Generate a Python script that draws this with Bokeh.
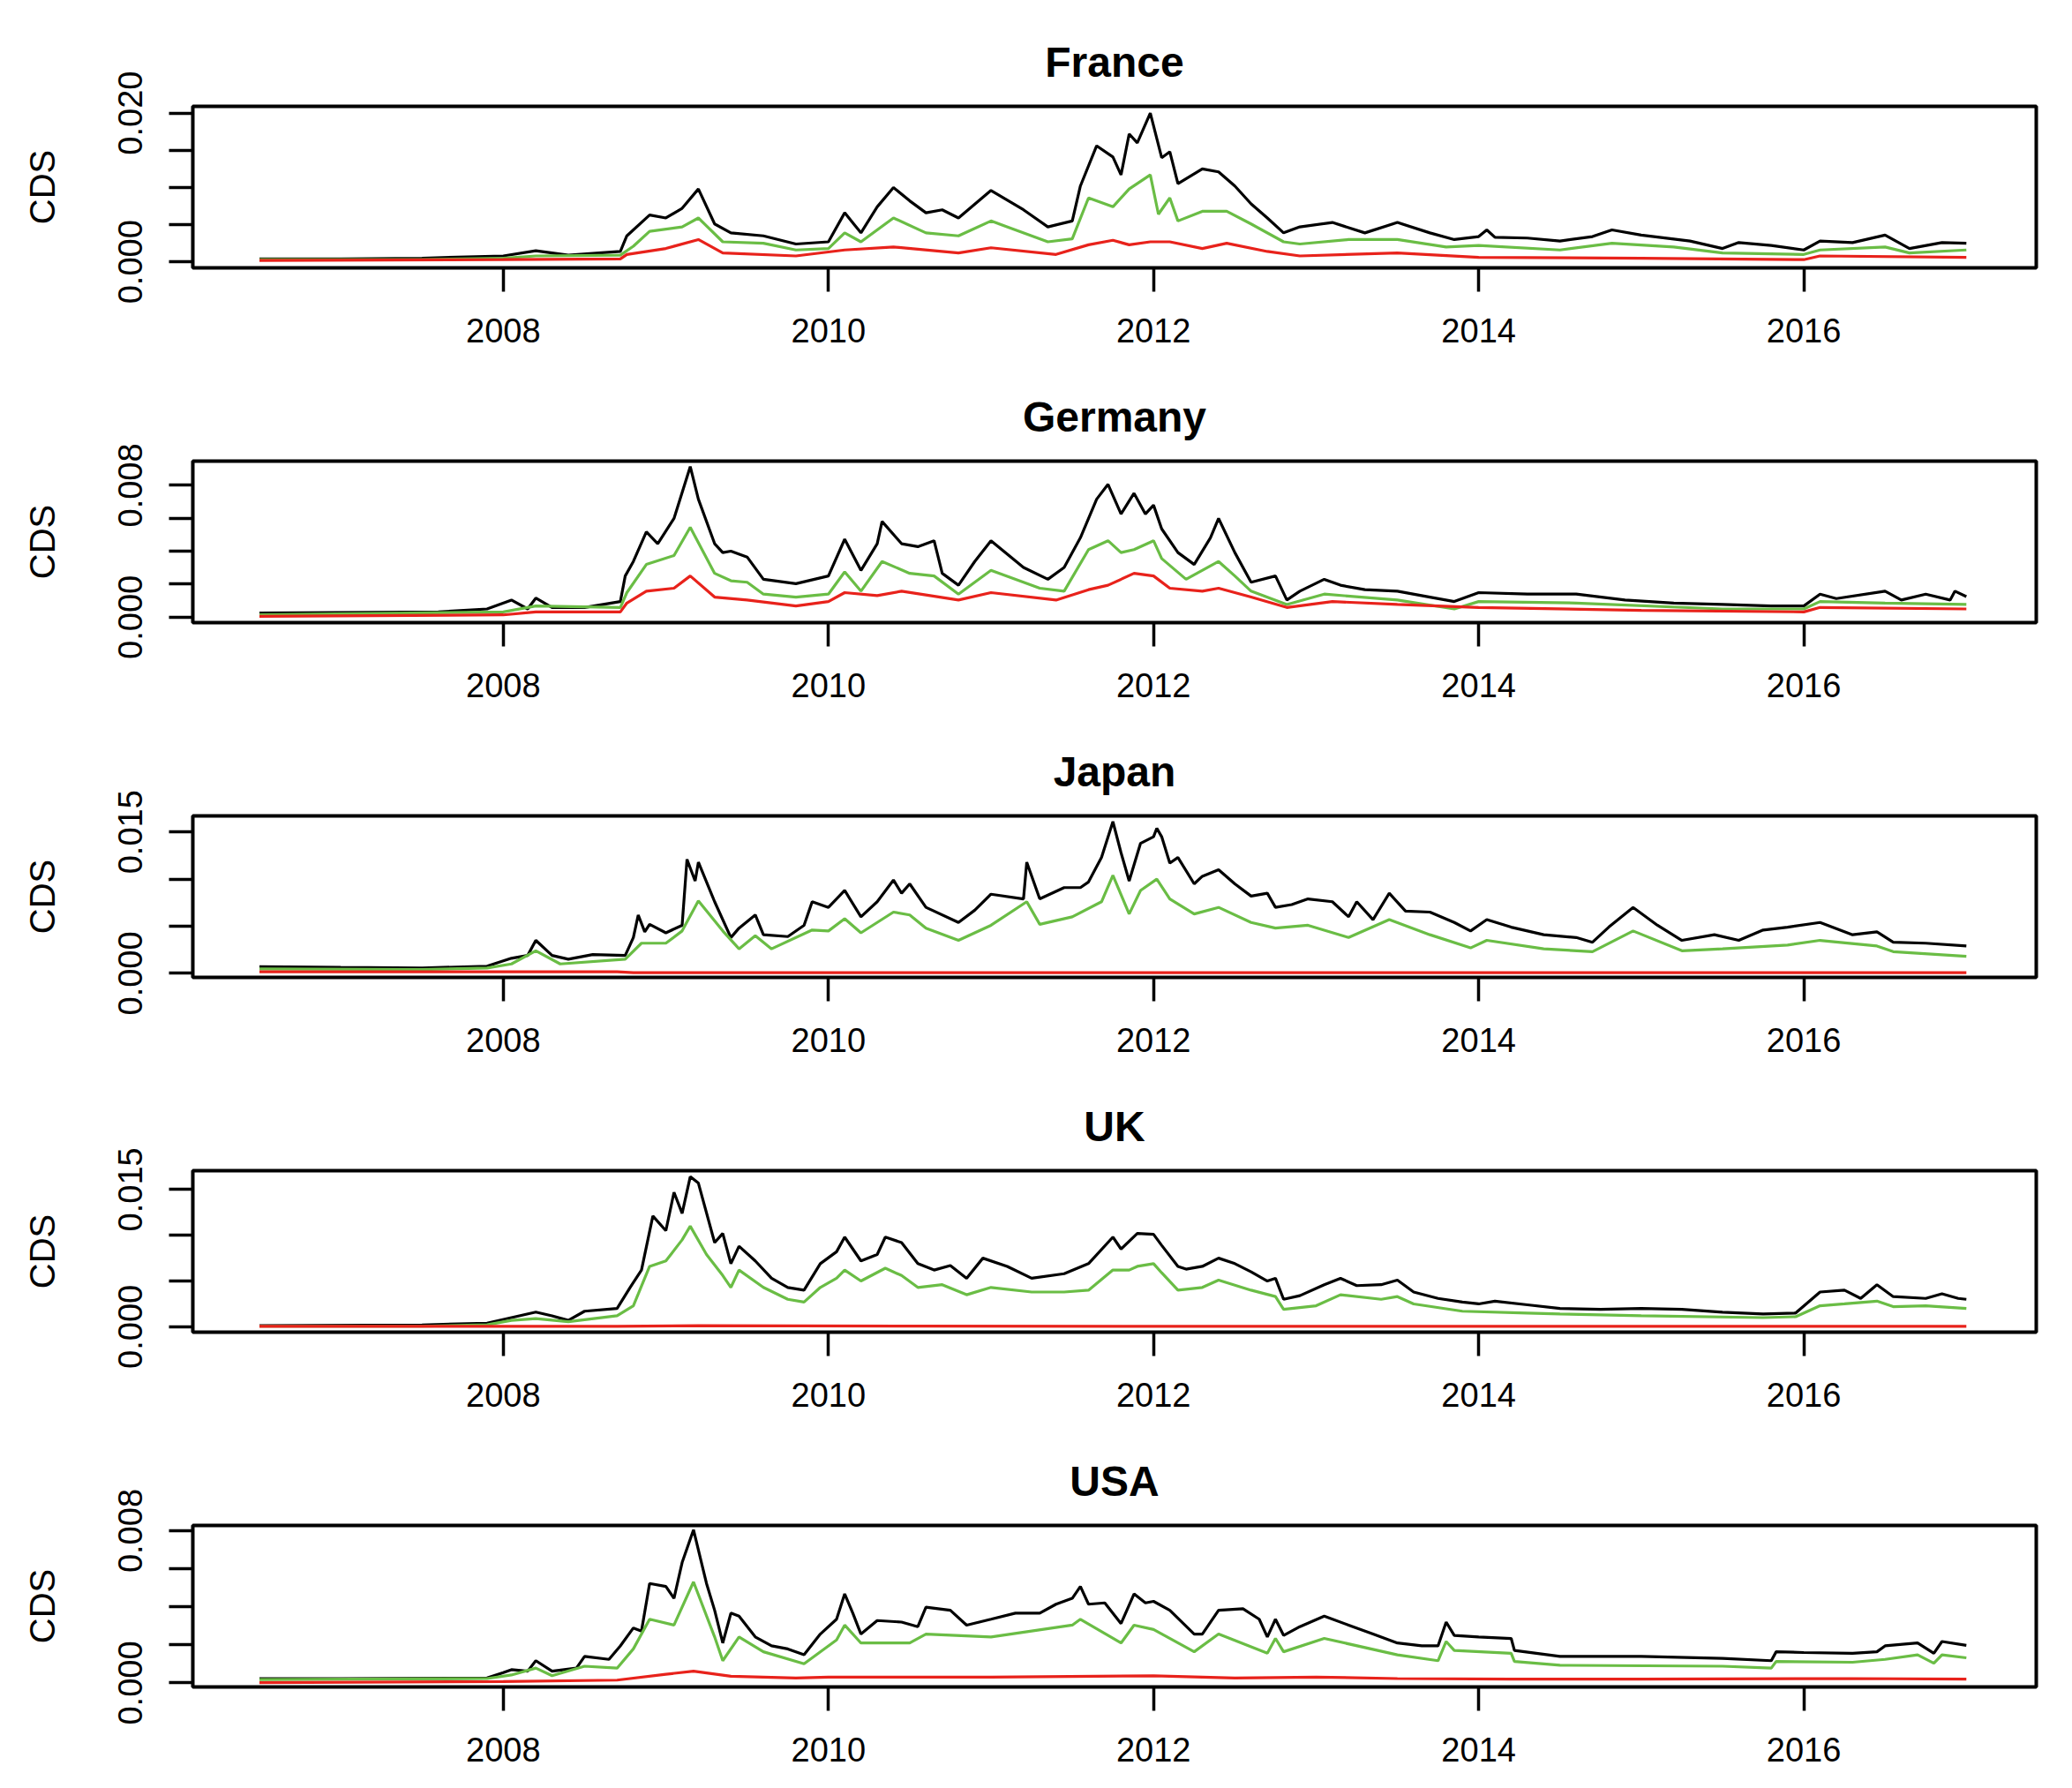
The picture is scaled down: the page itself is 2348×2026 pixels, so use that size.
from bokeh.plotting import figure
from bokeh.models import Range1d, FixedTicker, CustomJSTickFormatter
from bokeh.layouts import column
from bokeh.embed import file_html
from bokeh.resources import INLINE

COUNTRIES = ["France", "Germany", "Japan", "UK", "USA"]
YEAR_TICKS = [2008, 2010, 2012, 2014, 2016]

# (year, value) pairs
FRANCE_BLACK = [(2006.50, 0.0004), (2007.00, 0.0004), (2007.50, 0.0005), (2008.00, 0.0008), (2008.20, 0.0015),
    (2008.40, 0.0009), (2008.72, 0.0014), (2008.76, 0.0035), (2008.90, 0.0063), (2009.00, 0.0059), (2009.10, 0.0072),
    (2009.20, 0.0098), (2009.30, 0.0051), (2009.40, 0.0039), (2009.60, 0.0035), (2009.80, 0.0024), (2010.00, 0.0027),
    (2010.10, 0.0066), (2010.20, 0.0039), (2010.30, 0.0074), (2010.40, 0.0100), (2010.50, 0.0082), (2010.60, 0.0066),
    (2010.70, 0.0070), (2010.80, 0.0059), (2011.00, 0.0096), (2011.20, 0.0070), (2011.35, 0.0047), (2011.50, 0.0055),
    (2011.55, 0.0102), (2011.65, 0.0156), (2011.75, 0.0141), (2011.80, 0.0117), (2011.85, 0.0172), (2011.90, 0.0160),
    (2011.98, 0.0200), (2012.05, 0.0140), (2012.10, 0.0148), (2012.15, 0.0105), (2012.30, 0.0125), (2012.40, 0.0121),
    (2012.50, 0.0102), (2012.60, 0.0078), (2012.70, 0.0059), (2012.80, 0.0039), (2012.90, 0.0047), (2013.10, 0.0053),
    (2013.30, 0.0039), (2013.50, 0.0053), (2013.70, 0.0039), (2013.85, 0.0030), (2014.00, 0.0034), (2014.05, 0.0043),
    (2014.10, 0.0033), (2014.30, 0.0032), (2014.50, 0.0028), (2014.70, 0.0034), (2014.82, 0.0043), (2015.00, 0.0036),
    (2015.30, 0.0028), (2015.50, 0.0018), (2015.60, 0.0026), (2015.80, 0.0022), (2016.00, 0.0016), (2016.10, 0.0028),
    (2016.30, 0.0026), (2016.50, 0.0036), (2016.65, 0.0018), (2016.85, 0.0026), (2017.00, 0.0025)]
FRANCE_GREEN = [(2006.50, 0.0003), (2007.50, 0.0003), (2008.00, 0.0005), (2008.20, 0.0008), (2008.72, 0.0009),
    (2008.80, 0.0021), (2008.90, 0.0041), (2009.10, 0.0047), (2009.20, 0.0059), (2009.35, 0.0027), (2009.60, 0.0025),
    (2009.80, 0.0016), (2010.00, 0.0018), (2010.10, 0.0039), (2010.20, 0.0027), (2010.40, 0.0059), (2010.60, 0.0039),
    (2010.80, 0.0035), (2011.00, 0.0055), (2011.35, 0.0027), (2011.50, 0.0031), (2011.60, 0.0086), (2011.75, 0.0074),
    (2011.85, 0.0098), (2011.98, 0.0117), (2012.03, 0.0064), (2012.10, 0.0086), (2012.15, 0.0055), (2012.30, 0.0068),
    (2012.45, 0.0068), (2012.60, 0.0051), (2012.80, 0.0027), (2012.90, 0.0024), (2013.20, 0.0030), (2013.50, 0.0030),
    (2013.80, 0.0020), (2014.00, 0.0022), (2014.50, 0.0016), (2014.82, 0.0025), (2015.20, 0.0020), (2015.50, 0.0012),
    (2016.00, 0.0010), (2016.10, 0.0016), (2016.50, 0.0020), (2016.65, 0.0012), (2017.00, 0.0016)]
FRANCE_RED = [(2006.50, 0.0002), (2008.00, 0.0003), (2008.72, 0.0004), (2008.76, 0.0010), (2009.00, 0.0018),
    (2009.20, 0.0030), (2009.35, 0.0012), (2009.80, 0.0008), (2010.10, 0.0016), (2010.40, 0.0020), (2010.80, 0.0012),
    (2011.00, 0.0019), (2011.40, 0.0010), (2011.60, 0.0023), (2011.75, 0.0029), (2011.85, 0.0023), (2011.98, 0.0027),
    (2012.10, 0.0027), (2012.30, 0.0018), (2012.45, 0.0025), (2012.70, 0.0014), (2012.90, 0.0008), (2013.50, 0.0012),
    (2014.00, 0.0006), (2015.00, 0.0005), (2016.00, 0.0003), (2016.10, 0.0008), (2017.00, 0.0006)]

GERMANY_BLACK = [(2006.50, 0.00026), (2007.60, 0.00032), (2007.90, 0.0005), (2008.05, 0.00104), (2008.15, 0.0005),
    (2008.20, 0.00116), (2008.30, 0.00059), (2008.50, 0.00059), (2008.72, 0.00095), (2008.75, 0.0025), (2008.80, 0.00338),
    (2008.88, 0.00518), (2008.95, 0.00446), (2009.05, 0.00599), (2009.15, 0.00914), (2009.20, 0.00716), (2009.30, 0.00446),
    (2009.35, 0.00392), (2009.40, 0.00401), (2009.50, 0.00365), (2009.60, 0.0023), (2009.80, 0.00203), (2010.00, 0.0025),
    (2010.10, 0.00473), (2010.20, 0.00284), (2010.30, 0.00446), (2010.33, 0.00581), (2010.45, 0.00446), (2010.55, 0.00428),
    (2010.65, 0.00464), (2010.70, 0.00266), (2010.80, 0.00194), (2010.90, 0.00338), (2011.00, 0.00464), (2011.20, 0.00302),
    (2011.35, 0.0023), (2011.45, 0.00302), (2011.55, 0.00482), (2011.65, 0.00716), (2011.72, 0.00806), (2011.80, 0.00626),
    (2011.88, 0.00752), (2011.95, 0.00626), (2012.00, 0.0068), (2012.05, 0.00536), (2012.15, 0.00392), (2012.25, 0.0032),
    (2012.35, 0.00482), (2012.40, 0.00599), (2012.50, 0.00392), (2012.60, 0.00212), (2012.75, 0.0025), (2012.82, 0.00104),
    (2012.90, 0.00158), (2013.05, 0.0023), (2013.15, 0.00194), (2013.30, 0.00167), (2013.50, 0.00158), (2013.70, 0.00122),
    (2013.85, 0.00095), (2014.00, 0.00149), (2014.30, 0.0014), (2014.60, 0.0014), (2014.90, 0.00104), (2015.20, 0.00086),
    (2015.50, 0.00077), (2015.80, 0.00068), (2016.00, 0.00068), (2016.10, 0.0014), (2016.20, 0.00113), (2016.50, 0.00158),
    (2016.60, 0.00104), (2016.75, 0.0014), (2016.90, 0.00104), (2016.93, 0.00158), (2017.00, 0.00125)]
GERMANY_GREEN = [(2006.50, 0.00014), (2008.00, 0.00032), (2008.20, 0.00068), (2008.72, 0.00059), (2008.76, 0.00149),
    (2008.88, 0.0032), (2009.05, 0.00374), (2009.15, 0.00545), (2009.30, 0.00266), (2009.40, 0.00221), (2009.50, 0.00212),
    (2009.60, 0.0014), (2009.80, 0.00122), (2010.00, 0.0014), (2010.10, 0.00275), (2010.20, 0.00158), (2010.33, 0.00338),
    (2010.50, 0.00266), (2010.65, 0.0025), (2010.80, 0.0014), (2011.00, 0.00284), (2011.30, 0.00176), (2011.45, 0.00158),
    (2011.60, 0.0041), (2011.72, 0.00464), (2011.80, 0.00392), (2011.88, 0.0041), (2012.00, 0.00464), (2012.05, 0.00356),
    (2012.20, 0.0023), (2012.40, 0.00338), (2012.50, 0.0025), (2012.60, 0.00158), (2012.82, 0.00077), (2013.05, 0.0014),
    (2013.50, 0.00104), (2013.85, 0.0005), (2014.00, 0.00095), (2014.60, 0.00086), (2015.50, 0.0005), (2016.00, 0.0005),
    (2016.10, 0.00095), (2016.50, 0.00086), (2017.00, 0.00077)]
GERMANY_RED = [(2006.50, 0.00005), (2008.00, 0.00014), (2008.20, 0.00032), (2008.72, 0.00032), (2008.76, 0.00086),
    (2008.88, 0.00158), (2009.05, 0.00176), (2009.15, 0.0025), (2009.30, 0.00122), (2009.50, 0.00104), (2009.80, 0.00068),
    (2010.00, 0.00095), (2010.10, 0.00149), (2010.30, 0.00131), (2010.45, 0.00158), (2010.80, 0.00104), (2011.00, 0.00149),
    (2011.40, 0.00104), (2011.60, 0.00167), (2011.72, 0.00194), (2011.88, 0.00266), (2012.00, 0.0025), (2012.10, 0.00176),
    (2012.30, 0.00158), (2012.40, 0.00176), (2012.60, 0.00122), (2012.82, 0.00059), (2013.10, 0.00095), (2013.50, 0.00077),
    (2014.00, 0.00059), (2015.00, 0.00041), (2016.00, 0.00032), (2016.10, 0.00059), (2017.00, 0.0005)]

JAPAN_BLACK = [(2006.50, 0.0007), (2007.00, 0.00063), (2007.50, 0.00057), (2007.90, 0.00076), (2008.05, 0.0016),
    (2008.15, 0.0019), (2008.20, 0.0035), (2008.30, 0.0019), (2008.40, 0.0015), (2008.55, 0.0020), (2008.75, 0.0019),
    (2008.80, 0.0038), (2008.83, 0.0062), (2008.87, 0.0044), (2008.90, 0.0052), (2009.00, 0.0043), (2009.10, 0.0051),
    (2009.13, 0.0121), (2009.18, 0.0098), (2009.20, 0.0118), (2009.30, 0.0076), (2009.40, 0.0038), (2009.45, 0.0048),
    (2009.55, 0.0062), (2009.60, 0.0041), (2009.75, 0.0039), (2009.85, 0.0051), (2009.90, 0.0076), (2010.00, 0.0070),
    (2010.10, 0.0088), (2010.20, 0.0060), (2010.30, 0.0076), (2010.40, 0.0099), (2010.45, 0.0085), (2010.50, 0.0095),
    (2010.60, 0.0070), (2010.80, 0.0054), (2010.90, 0.0067), (2011.00, 0.0084), (2011.20, 0.0079), (2011.22, 0.0118),
    (2011.30, 0.0079), (2011.45, 0.0091), (2011.55, 0.0091), (2011.60, 0.0097), (2011.68, 0.0123), (2011.75, 0.0161),
    (2011.80, 0.0128), (2011.85, 0.0098), (2011.92, 0.0138), (2012.00, 0.0145), (2012.02, 0.0154), (2012.05, 0.0145),
    (2012.10, 0.0117), (2012.15, 0.0123), (2012.25, 0.0095), (2012.30, 0.0103), (2012.40, 0.0110), (2012.50, 0.0095),
    (2012.60, 0.0082), (2012.70, 0.0085), (2012.75, 0.0070), (2012.85, 0.0073), (2012.95, 0.0079), (2013.10, 0.0076),
    (2013.20, 0.0060), (2013.25, 0.0076), (2013.35, 0.0057), (2013.45, 0.0085), (2013.55, 0.0066), (2013.70, 0.0065),
    (2013.85, 0.0054), (2013.95, 0.0045), (2014.05, 0.0057), (2014.20, 0.0049), (2014.40, 0.0041), (2014.60, 0.0038),
    (2014.70, 0.0033), (2014.80, 0.0049), (2014.95, 0.0070), (2015.10, 0.0051), (2015.25, 0.0035), (2015.45, 0.0041),
    (2015.60, 0.0035), (2015.75, 0.0046), (2015.90, 0.0049), (2016.10, 0.0054), (2016.30, 0.0041), (2016.45, 0.0044),
    (2016.55, 0.0033), (2016.75, 0.0032), (2017.00, 0.0029)]
JAPAN_GREEN = [(2006.50, 0.00048), (2007.50, 0.0004), (2007.90, 0.00056), (2008.05, 0.0010), (2008.20, 0.0024),
    (2008.35, 0.0010), (2008.75, 0.0015), (2008.85, 0.0032), (2009.00, 0.0032), (2009.10, 0.0045), (2009.20, 0.0077),
    (2009.35, 0.0045), (2009.45, 0.0026), (2009.55, 0.0040), (2009.65, 0.0026), (2009.90, 0.0046), (2010.00, 0.0045),
    (2010.10, 0.0058), (2010.20, 0.0043), (2010.40, 0.0065), (2010.50, 0.0062), (2010.60, 0.0048), (2010.80, 0.0035),
    (2011.00, 0.0051), (2011.22, 0.0076), (2011.30, 0.0052), (2011.50, 0.0060), (2011.68, 0.0076), (2011.75, 0.0104),
    (2011.85, 0.0063), (2011.92, 0.0088), (2012.02, 0.0100), (2012.10, 0.0079), (2012.25, 0.0063), (2012.40, 0.0070),
    (2012.60, 0.0054), (2012.75, 0.0048), (2012.95, 0.0051), (2013.20, 0.0038), (2013.45, 0.0057), (2013.70, 0.0041),
    (2013.95, 0.0027), (2014.05, 0.0035), (2014.40, 0.0026), (2014.70, 0.0023), (2014.95, 0.0045), (2015.25, 0.0024),
    (2015.50, 0.0026), (2015.90, 0.0030), (2016.10, 0.0035), (2016.45, 0.0029), (2016.55, 0.0023), (2017.00, 0.0018)]
JAPAN_RED = [(2006.50, 0.00016), (2008.70, 0.00016), (2008.80, 0.00007), (2012.00, 0.00007), (2017.00, 0.00007)]

UK_BLACK = [(2006.50, 0.00013), (2007.50, 0.0002), (2007.90, 0.0004), (2008.05, 0.0010), (2008.20, 0.0016),
    (2008.30, 0.0012), (2008.40, 0.0007), (2008.50, 0.0017), (2008.70, 0.0020), (2008.78, 0.0043), (2008.85, 0.0062),
    (2008.92, 0.0121), (2009.00, 0.0105), (2009.05, 0.0147), (2009.10, 0.0124), (2009.15, 0.0164), (2009.20, 0.0157),
    (2009.30, 0.0092), (2009.35, 0.0102), (2009.40, 0.0069), (2009.45, 0.0088), (2009.55, 0.0072), (2009.65, 0.0053),
    (2009.75, 0.0043), (2009.85, 0.0040), (2009.95, 0.0069), (2010.05, 0.0082), (2010.10, 0.0098), (2010.20, 0.0072),
    (2010.30, 0.0079), (2010.35, 0.0098), (2010.45, 0.0092), (2010.55, 0.0069), (2010.65, 0.0062), (2010.75, 0.0067),
    (2010.85, 0.0053), (2010.95, 0.0075), (2011.10, 0.0066), (2011.25, 0.0053), (2011.45, 0.0058), (2011.60, 0.0069),
    (2011.75, 0.0098), (2011.80, 0.0085), (2011.90, 0.0102), (2012.00, 0.0101), (2012.05, 0.0089), (2012.15, 0.0066),
    (2012.20, 0.0063), (2012.30, 0.0066), (2012.40, 0.0075), (2012.50, 0.0069), (2012.60, 0.0060), (2012.70, 0.0050),
    (2012.75, 0.0053), (2012.80, 0.0030), (2012.90, 0.0034), (2013.05, 0.0046), (2013.15, 0.0053), (2013.25, 0.0045),
    (2013.40, 0.0046), (2013.50, 0.0051), (2013.60, 0.0038), (2013.75, 0.0031), (2013.90, 0.0027), (2014.00, 0.0025),
    (2014.10, 0.0028), (2014.30, 0.0024), (2014.50, 0.0020), (2014.75, 0.0019), (2015.00, 0.0020), (2015.25, 0.0019),
    (2015.50, 0.0016), (2015.75, 0.0014), (2015.95, 0.0015), (2016.10, 0.0038), (2016.25, 0.0040), (2016.35, 0.0031),
    (2016.45, 0.0046), (2016.55, 0.0033), (2016.75, 0.0031), (2016.85, 0.0036), (2016.95, 0.0031), (2017.00, 0.0030)]
UK_GREEN = [(2006.50, 0.00006), (2007.50, 0.00006), (2007.90, 0.00022), (2008.05, 0.0007), (2008.20, 0.0009),
    (2008.40, 0.00055), (2008.70, 0.0012), (2008.80, 0.0023), (2008.90, 0.0066), (2009.00, 0.0072), (2009.10, 0.0095),
    (2009.15, 0.0110), (2009.25, 0.0079), (2009.35, 0.0056), (2009.40, 0.0043), (2009.45, 0.0062), (2009.60, 0.0043),
    (2009.75, 0.0030), (2009.85, 0.0027), (2009.95, 0.0043), (2010.05, 0.0053), (2010.10, 0.0062), (2010.20, 0.0050),
    (2010.35, 0.0064), (2010.45, 0.0056), (2010.55, 0.0043), (2010.70, 0.0046), (2010.85, 0.0035), (2011.00, 0.0043),
    (2011.25, 0.0038), (2011.45, 0.0038), (2011.60, 0.0040), (2011.75, 0.0062), (2011.85, 0.0062), (2011.90, 0.0066),
    (2012.00, 0.0069), (2012.05, 0.0059), (2012.15, 0.0040), (2012.30, 0.0043), (2012.40, 0.0051), (2012.60, 0.0040),
    (2012.75, 0.0033), (2012.80, 0.0019), (2013.00, 0.0023), (2013.15, 0.0035), (2013.40, 0.0030), (2013.50, 0.0033),
    (2013.60, 0.0025), (2013.90, 0.0017), (2014.30, 0.0015), (2014.50, 0.0014), (2015.00, 0.0012), (2015.75, 0.0010),
    (2015.95, 0.0011), (2016.10, 0.0023), (2016.25, 0.0025), (2016.45, 0.0028), (2016.55, 0.0022), (2016.75, 0.0023),
    (2017.00, 0.0020)]
UK_RED = [(2006.50, 0.00005), (2008.70, 0.00005), (2009.20, 0.00012), (2010.50, 0.00008), (2012.00, 0.00005),
    (2014.00, 0.00005), (2017.00, 0.00005)]

USA_BLACK = [(2006.50, 0.00023), (2007.00, 0.00023), (2007.90, 0.00026), (2008.00, 0.00054), (2008.05, 0.0007),
    (2008.15, 0.00062), (2008.20, 0.00117), (2008.30, 0.00062), (2008.45, 0.00078), (2008.50, 0.0014), (2008.65, 0.00124),
    (2008.72, 0.00195), (2008.80, 0.00289), (2008.85, 0.00273), (2008.90, 0.00523), (2009.00, 0.00507), (2009.05, 0.00445),
    (2009.10, 0.00633), (2009.17, 0.00805), (2009.25, 0.00523), (2009.30, 0.00382), (2009.35, 0.0021), (2009.40, 0.00367),
    (2009.45, 0.00351), (2009.55, 0.00242), (2009.65, 0.00195), (2009.75, 0.00179), (2009.85, 0.00148), (2009.95, 0.00257),
    (2010.05, 0.00335), (2010.10, 0.00468), (2010.15, 0.00367), (2010.20, 0.00257), (2010.30, 0.00328), (2010.45, 0.0032),
    (2010.55, 0.00296), (2010.60, 0.00398), (2010.75, 0.00382), (2010.85, 0.00304), (2011.00, 0.00335), (2011.15, 0.00367),
    (2011.30, 0.00367), (2011.40, 0.00414), (2011.50, 0.00445), (2011.55, 0.00507), (2011.60, 0.00414), (2011.70, 0.00421),
    (2011.80, 0.00312), (2011.88, 0.00468), (2011.95, 0.00421), (2012.00, 0.00429), (2012.10, 0.00382), (2012.25, 0.00257),
    (2012.30, 0.00257), (2012.40, 0.00382), (2012.55, 0.0039), (2012.65, 0.00335), (2012.70, 0.00242), (2012.75, 0.00335),
    (2012.80, 0.0025), (2012.90, 0.00296), (2013.05, 0.00351), (2013.20, 0.00304), (2013.35, 0.00257), (2013.50, 0.0021),
    (2013.65, 0.00195), (2013.75, 0.00195), (2013.80, 0.0032), (2013.85, 0.0025), (2014.00, 0.00242), (2014.20, 0.00234),
    (2014.22, 0.00171), (2014.50, 0.0014), (2015.00, 0.0014), (2015.50, 0.00129), (2015.80, 0.00117), (2015.83, 0.00164),
    (2016.00, 0.0016), (2016.30, 0.00156), (2016.45, 0.00164), (2016.50, 0.00195), (2016.70, 0.0021), (2016.80, 0.00156),
    (2016.85, 0.00218), (2017.00, 0.00198)]
USA_GREEN = [(2006.50, 0.00018), (2007.90, 0.00023), (2008.05, 0.00042), (2008.20, 0.00078), (2008.30, 0.00038),
    (2008.50, 0.00088), (2008.70, 0.00078), (2008.80, 0.00179), (2008.90, 0.00335), (2009.05, 0.00304), (2009.17, 0.00531),
    (2009.30, 0.00242), (2009.35, 0.00117), (2009.45, 0.00242), (2009.60, 0.00164), (2009.85, 0.00101), (2010.05, 0.00226),
    (2010.10, 0.00304), (2010.20, 0.0021), (2010.50, 0.0021), (2010.60, 0.00257), (2011.00, 0.00242), (2011.50, 0.00304),
    (2011.55, 0.00335), (2011.80, 0.0021), (2011.88, 0.00304), (2012.00, 0.00281), (2012.25, 0.00164), (2012.40, 0.00257),
    (2012.70, 0.00156), (2012.75, 0.00234), (2012.80, 0.00164), (2013.05, 0.00234), (2013.50, 0.00148), (2013.75, 0.00117),
    (2013.80, 0.00218), (2013.85, 0.00171), (2014.20, 0.00156), (2014.22, 0.00113), (2014.50, 0.00093), (2015.50, 0.00088),
    (2015.80, 0.00078), (2015.83, 0.00113), (2016.30, 0.00109), (2016.50, 0.00124), (2016.70, 0.00148), (2016.80, 0.00104),
    (2016.85, 0.00148), (2017.00, 0.00132)]
USA_RED = [(2006.50, 0.00002), (2008.00, 0.00007), (2008.70, 0.00015), (2009.00, 0.00046), (2009.17, 0.00062),
    (2009.40, 0.00035), (2009.80, 0.00026), (2010.00, 0.00031), (2011.00, 0.00031), (2012.00, 0.00038), (2012.50, 0.00026),
    (2013.00, 0.00031), (2013.50, 0.00023), (2014.20, 0.0002), (2015.00, 0.0002), (2016.30, 0.00023), (2017.00, 0.0002)]

SERIES = {
    "France": (FRANCE_BLACK, FRANCE_GREEN, FRANCE_RED),
    "Germany": (GERMANY_BLACK, GERMANY_GREEN, GERMANY_RED),
    "Japan": (JAPAN_BLACK, JAPAN_GREEN, JAPAN_RED),
    "UK": (UK_BLACK, UK_GREEN, UK_RED),
    "USA": (USA_BLACK, USA_GREEN, USA_RED),
}
Y_TICKS = {
    "France": [0.0, 0.005, 0.010, 0.015, 0.020],
    "Germany": [0.0, 0.002, 0.004, 0.006, 0.008],
    "Japan": [0.0, 0.005, 0.010, 0.015],
    "UK": [0.0, 0.005, 0.010, 0.015],
    "USA": [0.0, 0.002, 0.004, 0.006, 0.008],
}
Y_LIMITS = {
    "France": (-0.0008, 0.0209),
    "Germany": (-0.00033, 0.00947),
    "Japan": (-0.00043, 0.01671),
    "UK": (-0.00059, 0.01706),
    "USA": (-0.00021, 0.00828),
}
X_LIMITS = (2006.09, 2017.43)

COLORS = ["#000000", "#6ABD45", "#E8221B"]
FONT = "Liberation Sans"

figs = []
for name in COUNTRIES:
    p = figure(width=2340, height=402, output_backend="svg", toolbar_location=None,
               x_range=Range1d(*X_LIMITS), y_range=Range1d(*Y_LIMITS[name]),
               min_border_left=218, min_border_right=33, min_border_top=120, min_border_bottom=99)
    p.background_fill_color = "white"
    p.border_fill_color = "white"
    p.outline_line_color = "black"
    p.outline_line_width = 4
    p.grid.visible = False

    p.title.text = name
    p.title.align = "center"
    p.title.text_color = "black"
    p.title.text_font = FONT
    p.title.text_font_size = "48px"
    p.title.text_font_style = "bold"
    p.title.standoff = 48

    xa = p.xaxis[0]
    xa.ticker = FixedTicker(ticks=YEAR_TICKS)
    xa.axis_line_color = None
    xa.major_tick_in = 0
    xa.major_tick_out = 27
    xa.major_tick_line_width = 3.5
    xa.minor_tick_line_color = None
    xa.major_label_text_color = "black"
    xa.major_label_text_font = FONT
    xa.major_label_text_font_size = "38px"
    xa.major_label_standoff = 30

    ya = p.yaxis[0]
    ya.ticker = FixedTicker(ticks=Y_TICKS[name])
    ya.formatter = CustomJSTickFormatter(code="""
        return (index == 0 || index == ticks.length - 1) ? tick.toFixed(3) : "";
    """)
    ya.axis_line_color = None
    ya.major_tick_in = 0
    ya.major_tick_out = 27
    ya.major_tick_line_width = 3.5
    ya.minor_tick_line_color = None
    ya.major_label_orientation = "vertical"
    ya.major_label_text_color = "black"
    ya.major_label_text_font = FONT
    ya.major_label_text_font_size = "38px"
    ya.major_label_standoff = 30
    ya.axis_label = "CDS"
    ya.axis_label_text_color = "black"
    ya.axis_label_text_font = FONT
    ya.axis_label_text_font_size = "40px"
    ya.axis_label_text_font_style = "normal"
    ya.axis_label_standoff = 62

    for data, color in zip(SERIES[name], COLORS):
        xs = [d[0] for d in data]
        ys = [d[1] for d in data]
        p.line(xs, ys, line_color=color, line_width=3.2)
    figs.append(p)

layout = column(*figs, spacing=0)
open("out.html", "w").write(file_html(layout, INLINE))
